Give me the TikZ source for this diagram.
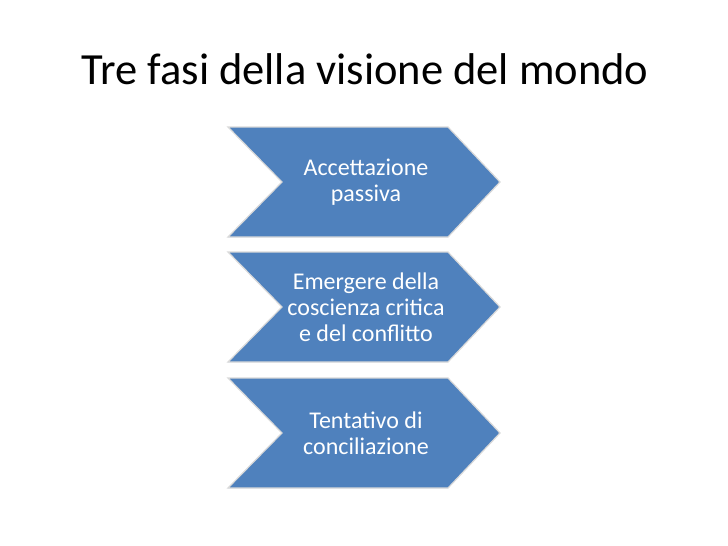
\documentclass[tikz,border=0pt]{standalone}
\usepackage{fontspec}
\setmainfont{Carlito}
\definecolor{chev}{HTML}{4F81BD}
\begin{document}
\begin{tikzpicture}[x=1pt,y=-1pt,
  chevtext/.style={text=white,align=center,font=\fontsize{24}{26}\selectfont}]
\useasboundingbox[fill=white] (0,0) rectangle (728,546);
\node[anchor=base west,font=\fontsize{44.5}{50}\selectfont] (title) at (78,84) {Tre fasi della visione del mondo};
\foreach \t/\n/\txt in {127/a/{Accettazione\\passiva},252/b/{Emergere della\\coscienza critica\\e del conflitto},378/c/{Tentativo di\\conciliazione}}{
  \draw[fill=chev,draw=black!15,line width=1.2] (228,\t) -- (448,\t) -- (500,\t+55) -- (448,\t+110) -- (228,\t+110) -- (282,\t+55) -- cycle;
  \node[chevtext] (\n) at (366,\t+55) {\txt};
}
\end{tikzpicture}
\end{document}
